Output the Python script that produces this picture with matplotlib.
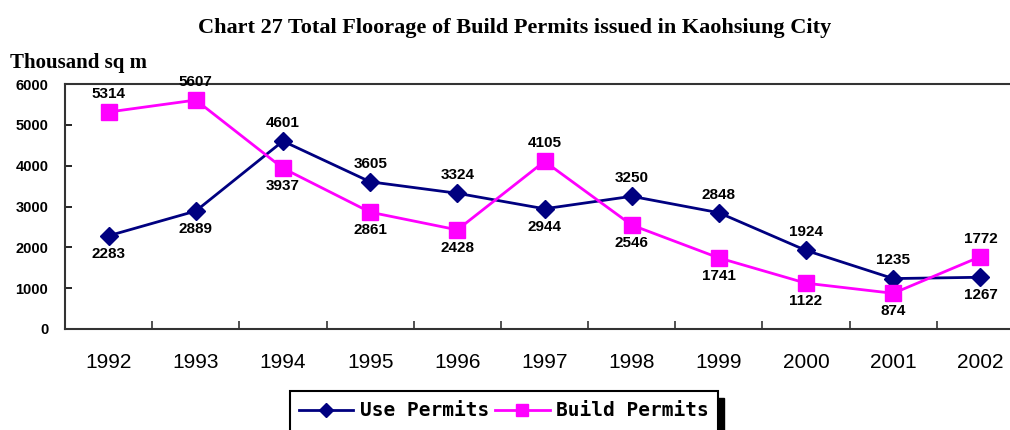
import matplotlib.pyplot as plt
from matplotlib.patches import Rectangle

years = ['1992', '1993', '1994', '1995', '1996', '1997', '1998', '1999', '2000', '2001', '2002']
use_permits = [2283, 2889, 4601, 3605, 3324, 2944, 3250, 2848, 1924, 1235, 1267]
build_permits = [5314, 5607, 3937, 2861, 2428, 4105, 2546, 1741, 1122, 874, 1772]
# label above (+1) or below (-1) the point
use_side = [-1, -1, 1, 1, 1, -1, 1, 1, 1, 1, -1]
build_side = [1, 1, -1, -1, -1, 1, -1, -1, -1, -1, 1]

navy = '#000080'
magenta = '#FF00FF'

fig = plt.figure(figsize=(10.1, 4.3), dpi=100)
ax = fig.add_axes([65 / 1010, 101 / 430, (1024 - 65) / 1010, 245 / 430])

x = range(len(years))
ax.plot(x, use_permits, color=navy, lw=2, marker='D', ms=9, label='Use Permits', clip_on=False)
ax.plot(x, build_permits, color=magenta, lw=2, marker='s', ms=12, label='Build Permits', clip_on=False)

for i in x:
    for vals, side in ((use_permits, use_side), (build_permits, build_side)):
        off = 8 if side[i] > 0 else -8
        ax.annotate(str(vals[i]), (i, vals[i]), xytext=(0, off), textcoords='offset points',
                    ha='center', va='bottom' if off > 0 else 'top',
                    fontsize=11, fontweight='bold', family='Liberation Sans')

ax.set_xlim(-0.5, len(years) - 0.5)
ax.set_ylim(0, 6000)
ax.set_yticks(range(0, 6001, 1000))
ax.set_yticklabels([str(v) for v in range(0, 6001, 1000)], fontsize=10.5,
                   fontweight='bold', family='Liberation Sans')
ax.set_xticks([i + 0.5 for i in x][:-1], minor=False)
ax.set_xticklabels([])
ax.set_xticks(list(x), minor=True)
ax.set_xticklabels(years, minor=True, fontsize=15, family='Liberation Sans')
ax.tick_params(axis='x', which='minor', length=0, pad=17)
ax.tick_params(axis='x', which='major', direction='in', length=6, width=1.2, color='#333333')
ax.tick_params(axis='y', direction='in', length=5, width=1.2, pad=12)
for s in ('left', 'bottom', 'top'):
    ax.spines[s].set_linewidth(1.5)
    ax.spines[s].set_color('#333333')
ax.spines['right'].set_visible(False)

fig.text(515 / 1010, 1 - 28 / 430, 'Chart 27 Total Floorage of Build Permits issued in Kaohsiung City',
         ha='center', va='center', fontsize=16, fontweight='bold', family='Liberation Serif')
fig.text(10 / 1010, 1 - 63 / 430, 'Thousand sq m', ha='left', va='center', fontsize=15,
         fontweight='bold', family='Liberation Serif')

# legend box running off the bottom edge, with a shadow on the right
fig.patches.append(Rectangle((295 / 1010, -0.1), 429 / 1010, 1 - 398 / 430 + 0.1,
                             transform=fig.transFigure, facecolor='black',
                             edgecolor='black', zorder=1))
fig.patches.append(Rectangle((290 / 1010, -0.1), 428 / 1010, 1 - 391 / 430 + 0.1,
                             transform=fig.transFigure, facecolor='white',
                             edgecolor='black', lw=1.5, zorder=2))
leg = fig.legend(loc='center', bbox_to_anchor=(504 / 1010, 1 - 411 / 430), ncol=2,
                 prop={'family': 'DejaVu Sans Mono', 'size': 14, 'weight': 'bold'},
                 frameon=False, markerscale=0.75,
                 handlelength=2.8, columnspacing=0.3, handletextpad=0.35,
                 borderpad=0, borderaxespad=0)
leg.set_zorder(5)

fig.savefig('out.png', dpi=100)
